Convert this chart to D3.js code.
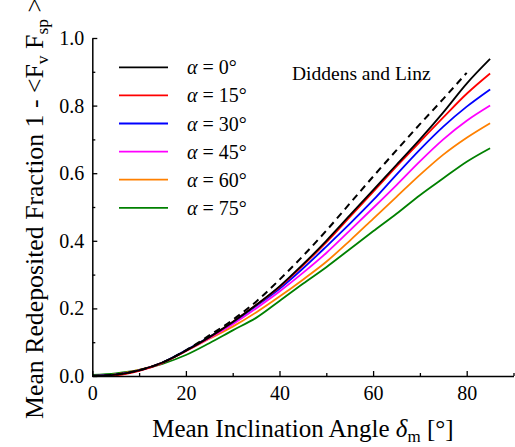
<!DOCTYPE html>
<html>
<head>
<meta charset="utf-8">
<script src="https://cdn.jsdelivr.net/npm/d3@7"></script>
<style>
  html, body { margin: 0; padding: 0; background: #fff; }
  svg { display: block; }
  svg text { font-family: "Liberation Serif", "Tinos", "Times New Roman", "DejaVu Serif", serif !important; fill: #000; }
</style>
</head>
<body>
<div id="chart"></div>
<script>
// ---- data ----
const angles = [0, 5, 10, 15, 20, 25, 30, 35, 40, 45, 50, 55, 60, 65, 70, 75, 80, 85];
const seriesNames = ["0", "15", "30", "45", "60", "75"];
const seriesColors = ["#000000", "#ff0000", "#0000ff", "#ff00ff", "#ff8000", "#008000"];
const alpha0  = [0, 0.004, 0.017, 0.040, 0.075, 0.115, 0.160, 0.210, 0.265, 0.330, 0.400, 0.475, 0.550, 0.625, 0.700, 0.780, 0.865, 0.938];
const alpha15 = [0, 0.002, 0.015, 0.039, 0.074, 0.114, 0.160, 0.210, 0.263, 0.327, 0.395, 0.470, 0.545, 0.620, 0.693, 0.765, 0.835, 0.895];
const alpha30 = [0, 0.004, 0.017, 0.040, 0.076, 0.115, 0.158, 0.207, 0.258, 0.318, 0.383, 0.450, 0.520, 0.596, 0.670, 0.738, 0.797, 0.848];
const alpha45 = [0, 0.004, 0.016, 0.039, 0.074, 0.112, 0.153, 0.200, 0.250, 0.305, 0.364, 0.430, 0.497, 0.565, 0.635, 0.700, 0.755, 0.800];
const alpha60 = [0, 0.005, 0.018, 0.040, 0.074, 0.110, 0.146, 0.188, 0.235, 0.285, 0.338, 0.400, 0.465, 0.530, 0.595, 0.655, 0.705, 0.748];
const alpha75 = [0.003, 0.008, 0.018, 0.036, 0.062, 0.097, 0.135, 0.172, 0.222, 0.273, 0.322, 0.375, 0.428, 0.480, 0.535, 0.585, 0.634, 0.674];
const diddensAngles = [0, 5, 10, 15, 20, 25, 30, 35, 40, 45, 50, 55, 60, 65, 70, 75, 80];
const diddensValues = [0, 0.004, 0.017, 0.040, 0.076, 0.120, 0.166, 0.220, 0.285, 0.355, 0.430, 0.510, 0.590, 0.668, 0.745, 0.820, 0.897];
const xMajorTicks = [0, 20, 40, 60, 80];
const xMinorTicks = [10, 30, 50, 70, 90];
const yMajorTicks = [0, 0.2, 0.4, 0.6, 0.8, 1.0];
const yMinorTicks = [0.1, 0.3, 0.5, 0.7, 0.9];

const allSeries = [alpha0, alpha15, alpha30, alpha45, alpha60, alpha75];

// ---- layout ----
const W = 515, H = 447;
const FONT = '"Liberation Serif", "Tinos", "Times New Roman", "DejaVu Serif", serif';
const svg = d3.select("#chart").append("svg").attr("width", W).attr("height", H)
  .attr("font-family", FONT);

const x = d3.scaleLinear().domain([0, 90]).range([92.3, 513.5]);
const y = d3.scaleLinear().domain([0, 1]).range([376, 38]);

const line = d3.line()
  .x(d => x(d[0]))
  .y(d => y(d[1]))
  .curve(d3.curveMonotoneX);

// curves (draw green first so black ends on top)
const plot = svg.append("g");
for (let i = allSeries.length - 1; i >= 0; i--) {
  const pts = angles.map((a, k) => [a, allSeries[i][k]]);
  plot.append("path")
    .attr("d", line(pts))
    .attr("fill", "none")
    .attr("stroke", seriesColors[i])
    .attr("stroke-width", 1.8)
    .attr("stroke-linejoin", "round");
}
// Diddens and Linz dashed
plot.append("path")
  .attr("d", line(diddensAngles.map((a, k) => [a, diddensValues[k]])))
  .attr("fill", "none")
  .attr("stroke", "#000")
  .attr("stroke-width", 2)
  .attr("stroke-dasharray", "7,5");

// ---- axes ----
const xAxis = d3.axisBottom(x).tickValues(xMajorTicks).tickFormat(d3.format("d"))
  .tickSizeInner(-5).tickSizeOuter(0).tickPadding(10);
const gx = svg.append("g").attr("transform", `translate(0,${y(0)})`).call(xAxis);
const xMinor = d3.axisBottom(x).tickValues(xMinorTicks).tickFormat("")
  .tickSizeInner(-3).tickSizeOuter(0);
svg.append("g").attr("transform", `translate(0,${y(0)})`).call(xMinor).select(".domain").remove();

const yAxis = d3.axisLeft(y).tickValues(yMajorTicks).tickFormat(d3.format(".1f"))
  .tickSizeInner(-5).tickSizeOuter(0).tickPadding(8);
const gy = svg.append("g").attr("transform", `translate(${x(0)},0)`).call(yAxis);
const yMinor = d3.axisLeft(y).tickValues(yMinorTicks).tickFormat("")
  .tickSizeInner(-3).tickSizeOuter(0);
svg.append("g").attr("transform", `translate(${x(0)},0)`).call(yMinor).select(".domain").remove();

svg.selectAll("g").filter(function() { return this.hasAttribute("font-family"); }).attr("font-family", FONT);
svg.selectAll(".domain").attr("stroke", "#000").attr("stroke-width", 1.5);
svg.selectAll(".tick line").attr("stroke", "#000").attr("stroke-width", 1.3);
svg.selectAll(".tick text").attr("font-size", 20).attr("font-family", FONT).attr("fill", "#000");

// ---- axis titles ----
const xt = svg.append("text")
  .attr("x", x(45)).attr("y", 437)
  .attr("text-anchor", "middle")
  .attr("font-size", 25);
xt.append("tspan").text("Mean Inclination Angle ");
xt.append("tspan").attr("font-style", "italic").text("δ");
xt.append("tspan").attr("font-size", 17).attr("dy", 5).text("m");
xt.append("tspan").attr("dy", -5).text(" [°]");

const yt = svg.append("text")
  .attr("transform", "translate(43,419) rotate(-90)")
  .attr("text-anchor", "start")
  .attr("font-size", 25.8);
yt.append("tspan").text("Mean Redeposited Fraction 1 - <F");
yt.append("tspan").attr("font-size", 17.5).attr("dy", 5).text("v");
yt.append("tspan").attr("dy", -5).text(" F");
yt.append("tspan").attr("font-size", 17.5).attr("dy", 5).text("sp");
yt.append("tspan").attr("dy", -5).text(" >");

// ---- legend ----
const legend = svg.append("g");
seriesNames.forEach((name, i) => {
  const ly = 67.3 + i * 28.1;
  legend.append("line")
    .attr("x1", 119).attr("x2", 168)
    .attr("y1", ly).attr("y2", ly)
    .attr("stroke", seriesColors[i]).attr("stroke-width", 1.8);
  const t = legend.append("text")
    .attr("x", 187).attr("y", ly + 7)
    .attr("font-size", 20);
  t.append("tspan").attr("font-style", "italic").text("α");
  t.append("tspan").text(" = " + name + "°");
});

svg.append("text")
  .attr("x", 292).attr("y", 80)
  .attr("font-size", 19.5)
  .text("Diddens and Linz");
</script>
</body>
</html>
